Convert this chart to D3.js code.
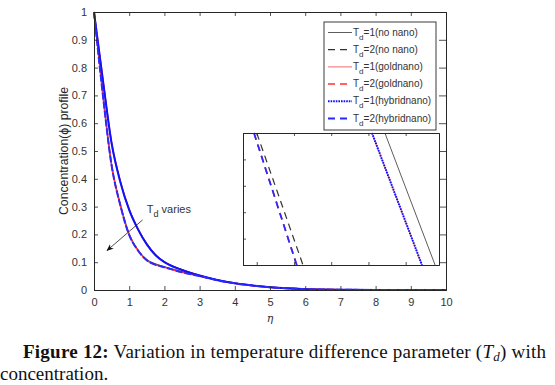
<!DOCTYPE html>
<html><head><meta charset="utf-8">
<script src="https://cdn.jsdelivr.net/npm/d3@7"></script>
<style>
html,body{margin:0;padding:0;background:#fff;}
svg{display:block;}
.sans{font-family:"Liberation Sans", Arial, sans-serif;}
.serif{font-family:"Liberation Serif", "Times New Roman", serif;}
</style></head>
<body>
<svg id="c" width="555" height="385"></svg>
<script>
// ---- data ----
const eta = [0,0.25,0.5,0.75,1,1.25,1.5,1.75,2,2.5,3,3.5,4,4.5,5,5.5,6,7,8,9,10];
const noNanoTd1  = [1,0.762,0.532,0.392,0.292,0.222,0.168,0.128,0.102,0.074,0.053,0.037,0.025,0.017,0.011,0.006,0.003,0.001,0,0,0];
const noNanoTd2  = [1,0.708,0.452,0.308,0.202,0.145,0.110,0.094,0.084,0.066,0.051,0.036,0.024,0.016,0.010,0.006,0.003,0.001,0,0,0];
const goldTd1    = [1,0.758,0.528,0.388,0.288,0.218,0.164,0.125,0.100,0.072,0.052,0.036,0.024,0.016,0.010,0.006,0.003,0.001,0,0,0];
const goldTd2    = [1,0.704,0.448,0.304,0.198,0.142,0.107,0.091,0.082,0.064,0.050,0.035,0.024,0.016,0.010,0.006,0.003,0.001,0,0,0];
const hybridTd1  = [1,0.758,0.528,0.388,0.288,0.218,0.164,0.125,0.100,0.072,0.052,0.036,0.024,0.016,0.010,0.006,0.003,0.001,0,0,0];
const hybridTd2  = [1,0.704,0.448,0.304,0.198,0.142,0.107,0.091,0.082,0.064,0.050,0.035,0.024,0.016,0.010,0.006,0.003,0.001,0,0,0];
const xTicks = [0,1,2,3,4,5,6,7,8,9,10];
const yTicks = [0,0.1,0.2,0.3,0.4,0.5,0.6,0.7,0.8,0.9,1];
const yTickLabels = ["0","0.1","0.2","0.3","0.4","0.5","0.6","0.7","0.8","0.9","1"];
const legendLabels = ["=1(no nano)","=2(no nano)","=1(goldnano)","=2(goldnano)","=1(hybridnano)","=2(hybridnano)"];
// inset (zoomed region) segments: [x,y] in inset units
const insetNoNanoTd1 = [[0.724,1],[0.98,0]];
const insetNoNanoTd2 = [[0.070,1],[0.306,0]];
const insetGoldTd1   = [[0.658,1],[0.913,0]];
const insetGoldTd2   = [[0.056,1],[0.274,0]];
const insetHybridTd1 = [[0.658,1],[0.913,0]];
const insetHybridTd2 = [[0.056,1],[0.274,0]];
const insetXTicks = [0.07,0.26,0.45,0.64,0.83];
const insetYTicks = [0,0.2,0.4,0.6,0.8,1];

const styles = [
  {stroke:"#333", w:0.8, dash:null},
  {stroke:"#333", w:1.2, dash:"7,5"},
  {stroke:"#f06a6a", w:1.0, dash:null},
  {stroke:"#ff3030", w:1.5, dash:"7,5"},
  {stroke:"#1010ff", w:2.0, dash:"1.6,1"},
  {stroke:"#2a2aff", w:1.8, dash:"7,5"}
];
const series = [noNanoTd1,noNanoTd2,goldTd1,goldTd2,hybridTd1,hybridTd2];
const insetSeries = [insetNoNanoTd1,insetNoNanoTd2,insetGoldTd1,insetGoldTd2,insetHybridTd1,insetHybridTd2];

const svg = d3.select("#c");
const L=94,R=446,T=12,B=290;
const x = d3.scaleLinear().domain([0,10]).range([L,R]);
const y = d3.scaleLinear().domain([0,1]).range([B,T]);
const axisCol="#262626", txtCol="#333";

// main curves
const line = d3.line().x((d,i)=>x(eta[i])).y(d=>y(d)).curve(d3.curveMonotoneX);
const g = svg.append("g");
series.forEach((s,k)=>{
  const st = styles[k];
  const p = g.append("path").attr("d",line(s)).attr("fill","none")
    .attr("stroke",st.stroke).attr("stroke-width",k>=4?2:(k>=2?1.6:1.0));
  if(k===5) p.attr("stroke-dasharray","7,2");
});

// axes (ticks inward)
const ax = svg.append("g");
ax.append("g").attr("transform",`translate(0,${B})`)
  .call(d3.axisBottom(x).tickValues(xTicks).tickSize(-4).tickPadding(8).tickFormat(d3.format("d")));
ax.append("g").attr("transform",`translate(0,${T})`)
  .call(d3.axisTop(x).tickValues(xTicks).tickSize(-4).tickFormat(""));
ax.append("g").attr("transform",`translate(${L},0)`)
  .call(d3.axisLeft(y).tickValues(yTicks).tickSize(-4).tickPadding(7).tickFormat((d,i)=>yTickLabels[i]));
ax.append("g").attr("transform",`translate(${R},0)`)
  .call(d3.axisRight(y).tickValues(yTicks).tickSize(-7).tickFormat(""));
ax.selectAll(".domain").attr("stroke",axisCol).attr("stroke-width",1);
ax.selectAll(".tick line").attr("stroke",axisCol).attr("stroke-width",0.8);
ax.selectAll(".tick text").attr("fill",txtCol).attr("class","sans").style("font-size","11px");

// axis labels
svg.append("text").attr("x",270).attr("y",322).attr("text-anchor","middle")
  .style("font-family","'DejaVu Serif', serif").style("font-style","italic").style("font-size","11px").attr("fill",txtCol).text("η");
svg.append("text").attr("transform","translate(68,151) rotate(-90)").attr("text-anchor","middle")
  .attr("class","sans").style("font-size","12.5px").attr("fill","#222")
  .attr("textLength",128).attr("lengthAdjust","spacingAndGlyphs")
  .text("Concentration(ϕ) profile");

// annotation
const defs = svg.append("defs");
defs.append("marker").attr("id","ah").attr("viewBox","0 0 10 10").attr("refX",9).attr("refY",5)
  .attr("markerWidth",9).attr("markerHeight",9).attr("orient","auto-start-reverse")
  .append("path").attr("d","M0,1 L10,5 L0,9 L3,5 Z").attr("fill","#111");
svg.append("line").attr("x1",x(1.38)).attr("y1",y(0.252)).attr("x2",x(0.37)).attr("y2",y(0.142))
  .attr("stroke","#222").attr("stroke-width",0.8).attr("marker-end","url(#ah)");
const an = svg.append("text").attr("x",x(1.5)).attr("y",y(0.277)).attr("class","sans")
  .style("font-size","11px").attr("fill",txtCol);
an.append("tspan").text("T");
an.append("tspan").style("font-size","9px").attr("dy",4).text("d");
an.append("tspan").attr("dy",-4).text(" varies");

// inset
const IL=243, IR=439, IT=133, IB=265;
const ix = d3.scaleLinear().domain([0,1]).range([IL,IR]);
const iy = d3.scaleLinear().domain([0,1]).range([IB,IT]);
const ig = svg.append("g");
ig.append("rect").attr("x",IL).attr("y",IT).attr("width",IR-IL).attr("height",IB-IT).attr("fill","#fff");
const iline = d3.line().x(d=>ix(d[0])).y(d=>iy(d[1]));
insetSeries.forEach((s,k)=>{
  const st = styles[k];
  const p = ig.append("path").attr("d",iline(s)).attr("fill","none")
    .attr("stroke",st.stroke).attr("stroke-width",st.w);
  if(st.dash) p.attr("stroke-dasharray",st.dash);
});
const iax = ig.append("g");
iax.append("g").attr("transform",`translate(0,${IB})`).call(d3.axisBottom(ix).tickValues(insetXTicks).tickSize(-3).tickFormat(""));
iax.append("g").attr("transform",`translate(0,${IT})`).call(d3.axisTop(ix).tickValues(insetXTicks).tickSize(-3).tickFormat(""));
iax.append("g").attr("transform",`translate(${IL},0)`).call(d3.axisLeft(iy).tickValues(insetYTicks).tickSize(-3).tickFormat(""));
iax.append("g").attr("transform",`translate(${IR},0)`).call(d3.axisRight(iy).tickValues([]).tickSize(0).tickFormat(""));
iax.selectAll(".domain").attr("stroke",axisCol).attr("stroke-width",1);
iax.selectAll(".tick line").attr("stroke",axisCol).attr("stroke-width",0.8);

// legend
const lg = svg.append("g");
lg.append("rect").attr("x",324).attr("y",22).attr("width",112).attr("height",108)
  .attr("fill","#fff").attr("stroke",axisCol).attr("stroke-width",0.9);
legendLabels.forEach((lab,k)=>{
  const yy = 32.5 + k*17.2;
  const st = styles[k];
  const p = lg.append("line").attr("x1",328).attr("x2",352).attr("y1",yy).attr("y2",yy)
    .attr("stroke",st.stroke).attr("stroke-width",st.w);
  if(st.dash) p.attr("stroke-dasharray",st.dash);
  const t = lg.append("text").attr("x",353).attr("y",yy+3).attr("class","sans")
    .style("font-size","10px").attr("fill",txtCol);
  t.append("tspan").text("T");
  t.append("tspan").style("font-size","8px").attr("dy",4).text("d");
  t.append("tspan").attr("dy",-4).text(lab);
});

// caption
const cap = svg.append("text").attr("x",23).attr("y",358).attr("class","serif")
  .style("font-size","19px").attr("fill","#111")
  .attr("textLength",523).attr("lengthAdjust","spacing");
cap.append("tspan").style("font-weight","bold").text("Figure 12:");
cap.append("tspan").text(" Variation in temperature difference parameter (");
cap.append("tspan").style("font-style","italic").text("T");
cap.append("tspan").style("font-style","italic").style("font-size","13px").attr("dy",3).text("d");
cap.append("tspan").attr("dy",-3).text(") with");
svg.append("text").attr("x",0).attr("y",380).attr("class","serif")
  .style("font-size","19px").attr("fill","#111").text("concentration.");
</script>
</body></html>
